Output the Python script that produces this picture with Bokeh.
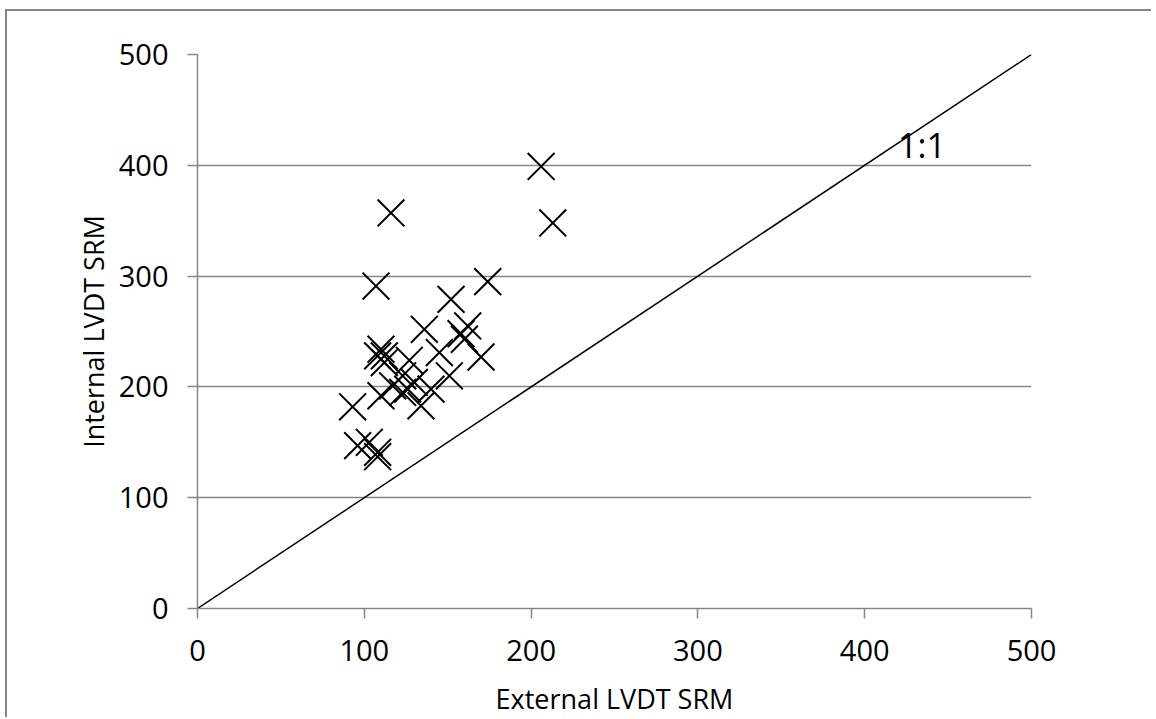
from bokeh.plotting import figure
from bokeh.models import Range1d, FixedTicker, Label
from bokeh.embed import file_html
from bokeh.resources import INLINE

# Data
external = [206, 213, 116, 107, 174, 152, 136, 162, 158, 160, 170, 145, 151,
            110, 112, 108, 112, 127, 123, 126, 130, 123, 134, 140, 110, 93,
            96, 103, 108, 108, 117]
internal = [399, 348, 357, 291, 295, 279, 252, 255, 248, 243, 227, 231, 210,
            234, 228, 228, 222, 224, 210, 198, 204, 195, 183, 198, 192, 182,
            147, 150, 141, 137, 201]
line_x = [0, 500]
line_y = [0, 500]
ticks = [0, 100, 200, 300, 400, 500]

FONT = "Open Sans"
GREY = "#868686"

p = figure(width=1146, height=708, output_backend="svg", toolbar_location=None,
           x_range=Range1d(0, 500), y_range=Range1d(0, 500),
           min_border_left=190, min_border_top=43, min_border_right=122,
           min_border_bottom=109)
p.styles = {"border-left": "2px solid #868686", "border-top": "2px solid #868686",
            "margin-left": "5px", "margin-top": "9px"}
p.outline_line_color = None
p.xgrid.grid_line_color = None
p.ygrid.grid_line_color = GREY
p.ygrid.grid_line_width = 1.5

for ax in (p.xaxis[0], p.yaxis[0]):
    ax.ticker = FixedTicker(ticks=ticks)
    ax.axis_line_color = GREY
    ax.axis_line_width = 1.5
    ax.major_tick_line_color = GREY
    ax.major_tick_line_width = 1.5
    ax.major_tick_out = 10
    ax.major_tick_in = 0
    ax.minor_tick_line_color = None
    ax.major_label_text_font = FONT
    ax.major_label_text_font_size = "29px"
    ax.major_label_text_color = "black"
    ax.axis_label_text_font = FONT
    ax.axis_label_text_font_size = "27px"
    ax.axis_label_text_font_style = "normal"
    ax.axis_label_text_color = "black"

p.xaxis.axis_label = "External LVDT SRM"
p.yaxis.axis_label = "Internal LVDT SRM"
p.xaxis.major_label_standoff = 21
p.yaxis.major_label_standoff = 19
p.xaxis.axis_label_standoff = 16
p.yaxis.axis_label_standoff = 4

p.line(line_x, line_y, line_color="black", line_width=1.5)
p.scatter(external, internal, marker="x", size=38, line_color="black", line_width=2)

p.add_layout(Label(x=420, y=418, text="1:1", text_font=FONT, text_font_size="34px",
                   text_color="black", text_baseline="alphabetic"))

open("out.html", "w").write(file_html(p, INLINE))
